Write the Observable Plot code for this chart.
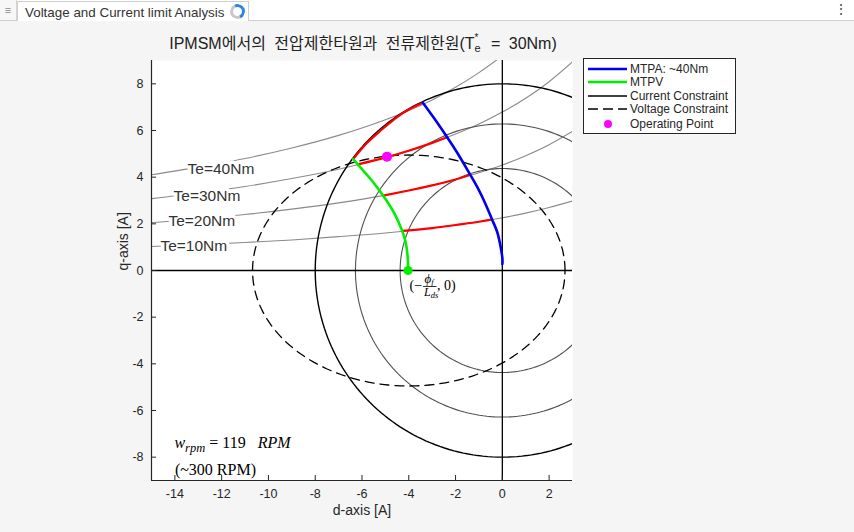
<!DOCTYPE html>
<html>
<head>
<meta charset="utf-8">
<script src="https://cdn.jsdelivr.net/npm/d3@7"></script>
<script src="https://cdn.jsdelivr.net/npm/@observablehq/plot@0.6"></script>
<style>
  html, body { margin:0; padding:0; }
  body { width:854px; height:532px; overflow:hidden; background:#f5f5f5; position:relative; font-family:"Liberation Sans", Arial, sans-serif; }
  #topbar { position:absolute; left:0; top:0; width:854px; height:20px; background:#ffffff; border-bottom:1px solid #cfcfcf; z-index:5; }
  #menu { position:absolute; left:0; top:0; width:16px; height:20px; border-right:1px solid #d6d6d6; background:#f7f7f7; color:#8a8a8a; font-size:11px; line-height:20px; text-align:center; }
  #tab { position:absolute; left:17px; top:1px; width:232px; height:20px; background:#fff; border:1px solid #cfcfcf; border-bottom:none; box-sizing:border-box; font-size:13.4px; color:#333; line-height:19px; padding-left:7px; padding-top:1px; white-space:nowrap; }
  #spin { position:absolute; left:212px; top:2px; width:9px; height:9px; border:3px solid #c8c8c8; border-right-color:#2f86dd; border-top-color:#2f86dd; border-radius:50%; transform:rotate(20deg); }
  #kebab { position:absolute; left:834px; top:0; font-size:14px; color:#444; line-height:18px; }
  #chart { position:absolute; left:0; top:0; }
  #title { position:absolute; left:151px; top:35px; width:424px; text-align:center; font-size:16px; line-height:18px; color:#222; white-space:nowrap; word-spacing:4px; font-family:"Liberation Sans", Arial, "Noto Sans CJK KR", sans-serif; }
  #title .ss { display:inline-block; position:relative; width:8px; height:10px; word-spacing:0; }
  #title .ss .sup { position:absolute; left:0; top:-5px; font-size:10px; line-height:8px; }
  #title .ss .sub { position:absolute; left:0; top:4px; font-size:11px; line-height:10px; }
  #legend { position:absolute; left:583px; top:58px; width:153px; height:76px; box-sizing:border-box; border:1px solid #262626; background:#fff; font-size:12px; color:#262626; }
  #legend .row { position:absolute; left:0; height:14px; line-height:14px; white-space:nowrap; }
  #legend .row svg { position:absolute; left:4px; top:0; }
  #legend .row span { position:absolute; left:46px; top:0; }
</style>
</head>
<body>
<div id="chart"></div>
<div id="topbar">
  <div id="menu">&#8801;</div>
  <div id="tab">Voltage and Current limit Analysis<div id="spin"></div></div>
  <div id="kebab">&#8942;</div>
</div>
<div id="title">IPMSM에서의 전압제한타원과 전류제한원(T<span class="ss"><span class="sup">*</span><span class="sub">e</span></span> = 30Nm)</div>
<div id="legend"></div>
<script>
// ---- axes ----
const xDomain = [-15, 3];
const yDomain = [-9, 9];
const xTicks = [-14, -12, -10, -8, -6, -4, -2, 0, 2];
const yTicks = [-8, -6, -4, -2, 0, 2, 4, 6, 8];

// ---- constant torque curves ----
const torqueLabels = ["Te=10Nm", "Te=20Nm", "Te=30Nm", "Te=40Nm"];
const torqueD = [-15, -13, -11, -9, -7, -5, -3, -2, -1, 0, 1, 2, 3];
const te10Q = [1.03, 1.11, 1.20, 1.31, 1.45, 1.61, 1.82, 1.95, 2.09, 2.26, 2.46, 2.70, 2.98];
const te20Q = [2.05, 2.21, 2.40, 2.63, 2.90, 3.23, 3.65, 3.90, 4.19, 4.52, 4.92, 5.39, 5.96];
const te30Q = [3.08, 3.32, 3.60, 3.94, 4.34, 4.84, 5.47, 5.85, 6.28, 6.79, 7.38, 8.09, 8.94];
const te40Q = [4.10, 4.43, 4.80, 5.25, 5.79, 6.46, 7.31, 7.85, 8.48, 9.20];
const labelD = [-13.19, -12.85, -12.63, -12.03];
const labelQ = [1.07, 2.14, 3.21, 4.37];

// ---- current limit circles and voltage ellipse ----
const currentRadii = [8, 6.28, 4.37];
const voltCenterD = -4.0;
const voltSemiD = 6.68;
const voltSemiQ = 4.95;

// ---- MTPA / MTPV trajectories ----
const mtpaD = [0, 0, -0.09, -0.22, -0.44, -0.72, -1.03, -1.37, -1.85, -2.36, -2.9, -3.4];
const mtpaQ = [0.27, 0.55, 1.10, 1.65, 2.19, 2.85, 3.50, 4.10, 4.92, 5.71, 6.50, 7.19];
const mtpvD = [-4.03, -4.05, -4.13, -4.28, -4.6, -5.1, -5.6, -6.0, -6.18, -6.38];
const mtpvQ = [0, 0.6, 1.2, 1.7, 2.42, 3.21, 3.88, 4.34, 4.55, 4.77];

// ---- red operating segments ----
const red10D = [-4.28, -3, -2, -1, -0.44];
const red10Q = [1.70, 1.82, 1.95, 2.09, 2.19];
const red20D = [-5.1, -4, -3, -2, -1.37];
const red20Q = [3.21, 3.43, 3.65, 3.90, 4.10];
const red30D = [-6.18, -5, -4, -3, -2.36];
const red30Q = [4.55, 4.84, 5.13, 5.47, 5.71];
const arcD = [-6.38, -5.8, -5.2, -4.6, -4.0, -3.4];
const arcQ = [4.77, 5.45, 6.00, 6.50, 6.90, 7.19];

// ---- points ----
const opD = [-4.93], opQ = [4.88];
const fluxD = [-4.03], fluxQ = [0];

// ---- annotations / legend ----
const legendLabels = ["MTPA: ~40Nm", "MTPV", "Current Constraint", "Voltage Constraint", "Operating Point"];
const rpmValue = 119;
const rpmNoteAt = [-14.0, -7.62];
const rpmNote2 = "(~300 RPM)";
const rpmNote2At = [-14.0, -8.78];

// ---- build tables ----
const teSeries = [te10Q, te20Q, te30Q, te40Q];
const torqueRows = teSeries.flatMap((qs, k) => qs.map((q, i) => ({te: torqueLabels[k], d: torqueD[i], q})));
const labelRows = torqueLabels.map((t, i) => ({t, d: labelD[i], q: labelQ[i]}));
const angles = d3.range(0, 361, 1.5).map(a => a * Math.PI / 180);
const circleRows = currentRadii.flatMap(r => angles.map(t => ({r, d: r * Math.cos(t), q: r * Math.sin(t)})));
const ellipseRows = angles.map(t => ({d: voltCenterD + voltSemiD * Math.cos(t), q: voltSemiQ * Math.sin(t)}));
const zipRows = (D, Q, s) => D.map((d, i) => ({s, d, q: Q[i]}));
const redRows = [
  ...zipRows(red10D, red10Q, "r10"), ...zipRows(red20D, red20Q, "r20"),
  ...zipRows(red30D, red30Q, "r30"), ...zipRows(arcD, arcQ, "arc")
];
const mtpaRows = zipRows(mtpaD, mtpaQ, "mtpa");
const mtpvRows = zipRows(mtpvD, mtpvQ, "mtpv");

const chart = Plot.plot({
  width: 854, height: 532,
  marginLeft: 151, marginRight: 282, marginTop: 60, marginBottom: 52,
  x: {domain: xDomain},
  y: {domain: yDomain},
  style: {background: "transparent", fontFamily: "'Liberation Sans', Arial, sans-serif", fontSize: "12.5px", color: "#262626", overflow: "visible"},
  marks: [
    Plot.frame({fill: "white", stroke: "none"}),
    Plot.line(torqueRows, {x: "d", y: "q", z: "te", stroke: "#8a8a8a", strokeWidth: 1.1, curve: "monotone-x", clip: true}),
    Plot.line(circleRows.filter(r => r.r !== currentRadii[0]), {x: "d", y: "q", z: "r", stroke: "#505050", strokeWidth: 1.1, clip: true}),
    Plot.line(circleRows.filter(r => r.r === currentRadii[0]), {x: "d", y: "q", stroke: "#000", strokeWidth: 1.4, clip: true}),
    Plot.line(ellipseRows, {x: "d", y: "q", stroke: "#000", strokeWidth: 1.3, strokeDasharray: "9,6", clip: true}),
    Plot.ruleY([0], {stroke: "#000", strokeWidth: 1.3}),
    Plot.ruleX([0], {stroke: "#000", strokeWidth: 1.3}),
    Plot.line(redRows, {x: "d", y: "q", z: "s", stroke: "#ff0000", strokeWidth: 2.2, curve: "natural"}),
    Plot.line(mtpaRows, {x: "d", y: "q", stroke: "#0000ee", strokeWidth: 2.6, curve: "natural"}),
    Plot.line(mtpvRows, {x: "d", y: "q", stroke: "#00ee00", strokeWidth: 2.6, curve: "natural"}),
    Plot.dot(fluxD.map((d, i) => ({d, q: fluxQ[i]})), {x: "d", y: "q", r: 4.5, fill: "#00ee00", stroke: "none"}),
    Plot.dot(opD.map((d, i) => ({d, q: opQ[i]})), {x: "d", y: "q", r: 5, fill: "#ff00ff", stroke: "none"}),
    Plot.text(labelRows, {x: "d", y: "q", text: "t", fontSize: 15.5, fill: "#333", stroke: "white", strokeWidth: 7, paintOrder: "stroke", textAnchor: "middle", lineAnchor: "middle"}),
    Plot.text([rpmNote2], {x: () => rpmNote2At[0], y: () => rpmNote2At[1], text: d => d, fontFamily: "'Liberation Serif', 'Times New Roman', serif", fontSize: 16, fill: "#000", textAnchor: "start", lineAnchor: "bottom"}),
    Plot.ruleX([xDomain[0]], {stroke: "#262626", strokeWidth: 1.2}),
    Plot.ruleY([yDomain[0]], {stroke: "#262626", strokeWidth: 1.2}),
    Plot.axisX(xTicks, {anchor: "bottom", tickSize: -5, tickPadding: 14, tickFormat: d => String(d), label: null}),
    Plot.axisY(yTicks, {anchor: "left", tickSize: -5, tickPadding: 13, tickFormat: d => String(d), label: null}),
    Plot.text(["d-axis [A]"], {frameAnchor: "bottom", dy: 30, fontSize: 14, fill: "#262626", lineAnchor: "middle"}),
    Plot.text(["q-axis [A]"], {frameAnchor: "left", dx: -28, rotate: -90, fontSize: 14, fill: "#262626", lineAnchor: "middle"})
  ]
});
document.getElementById("chart").appendChild(chart);

// ---- rich-text annotations positioned through the plot's scales ----
const sx = chart.scale("x"), sy = chart.scale("y");
const svg = d3.select(chart);
const serif = "'Liberation Serif', 'Times New Roman', serif";
const t1 = svg.append("text")
  .attr("x", sx.apply(rpmNoteAt[0])).attr("y", sy.apply(rpmNoteAt[1]))
  .attr("text-anchor", "start")
  .attr("font-family", serif).attr("font-size", 16).attr("fill", "#000");
t1.append("tspan").attr("font-style", "italic").text("w");
t1.append("tspan").attr("font-style", "italic").attr("font-size", 12.5).attr("dy", 4).text("rpm");
t1.append("tspan").attr("dy", -4).text(` = ${rpmValue}\u00A0\u00A0\u00A0`);
t1.append("tspan").attr("font-style", "italic").text("RPM");

const fx = sx.apply(fluxD[0]), fy = sy.apply(fluxQ[0]);
const g = svg.append("g").attr("font-family", serif).attr("fill", "#000").attr("text-anchor", "start");
g.append("text").attr("x", fx + 2).attr("y", fy + 20).attr("font-size", 14).text("(\u2212");
const num = g.append("text").attr("x", fx + 17).attr("y", fy + 13).attr("font-size", 13).attr("font-style", "italic");
num.append("tspan").text("\u03D5");
num.append("tspan").attr("font-size", 8.5).attr("dy", 1.5).text("f");
g.append("line").attr("x1", fx + 15.5).attr("x2", fx + 29).attr("y1", fy + 16.5).attr("y2", fy + 16.5).attr("stroke", "#000").attr("stroke-width", 0.8);
const den = g.append("text").attr("x", fx + 16.5).attr("y", fy + 26).attr("font-size", 12).attr("font-style", "italic");
den.append("tspan").text("L");
den.append("tspan").attr("font-size", 8.5).attr("dy", 1.5).text("ds");
g.append("text").attr("x", fx + 29.5).attr("y", fy + 20).attr("font-size", 14).text(", 0)");

// ---- legend ----
const legendCenters = [2.9, 16.3, 29.6, 42.9, 57.6];
const legendStyles = [
  {type: "line", stroke: "#0000ee", width: 2.6},
  {type: "line", stroke: "#00ee00", width: 2.6},
  {type: "line", stroke: "#000", width: 1.3},
  {type: "line", stroke: "#000", width: 1.3, dash: "10,5"},
  {type: "dot", fill: "#ff00ff"}
];
const legend = document.getElementById("legend");
legendLabels.forEach((lab, i) => {
  const row = document.createElement("div");
  row.className = "row";
  row.style.top = legendCenters[i] + "px";
  row.style.width = "150px";
  const st = legendStyles[i];
  const inner = st.type === "line"
    ? `<line x1="0" x2="39" y1="7" y2="7" stroke="${st.stroke}" stroke-width="${st.width}" ${st.dash ? `stroke-dasharray="${st.dash}"` : ""}/>`
    : `<circle cx="20" cy="7" r="4" fill="${st.fill}"/>`;
  row.innerHTML = `<svg width="40" height="14">${inner}</svg><span>${lab}</span>`;
  legend.appendChild(row);
});
</script>
</body>
</html>
